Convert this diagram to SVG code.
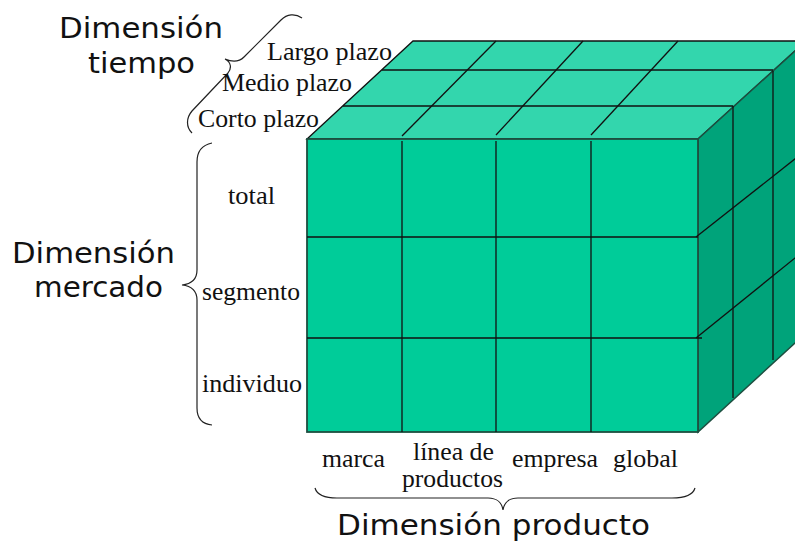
<svg xmlns="http://www.w3.org/2000/svg" width="795" height="543" viewBox="0 0 795 543">
<style>
.sans{font-family:"DejaVu Sans","Verdana",sans-serif;font-size:29px;fill:#111}
.ser{font-family:"Liberation Serif","Times New Roman",serif;font-size:26px;fill:#111}
.grid{stroke:#111;stroke-width:1.3;fill:none}
.brace{stroke:#222;stroke-width:1.2;fill:none}
</style>
<rect width="795" height="543" fill="#fff"/>
<g id="cube">
  <polygon points="307,139 413,41 806,41 698,139" fill="#33D6AD" stroke="#111" stroke-width="1.3"/>
  <polygon points="698,139 806,41 806,333 698,432" fill="#00A37A" stroke="#1d4f40" stroke-width="1.5"/>
  <rect x="307" y="139" width="391" height="293" fill="#00CC99" stroke="#1d4f40" stroke-width="1.8"/>
  <g class="grid">
    <line x1="343" y1="106" x2="733" y2="106"/>
    <line x1="382" y1="70" x2="773" y2="70"/>
    <line x1="402" y1="136" x2="496" y2="41"/>
    <line x1="496" y1="135" x2="583" y2="41"/>
    <line x1="591" y1="135" x2="678" y2="41"/>
    <line x1="402" y1="141" x2="402" y2="432"/>
    <line x1="496" y1="141" x2="496" y2="432"/>
    <line x1="591" y1="141" x2="591" y2="432"/>
    <line x1="307" y1="237" x2="698" y2="237"/>
    <line x1="307" y1="338" x2="702" y2="338"/>
    <line x1="733" y1="106" x2="733" y2="398"/>
    <line x1="773" y1="71" x2="773" y2="360"/>
    <line x1="696" y1="237" x2="800" y2="155"/>
    <line x1="696" y1="338" x2="800" y2="254"/>
  </g>
</g>
<g id="braces">
  <path class="brace" d="M302,18 C295,13 287,14 281,20 L244,57 C239,62 232,62 225,59 C231,62 232,68 228,73 L192,111 C186,118 186,127 192,133"/>
  <path class="brace" d="M212,143 C202,145 197,152 197,162 L197,270 C197,279 191,284 182,285 C191,286 197,291 197,300 L197,408 C197,418 202,424 212,425"/>
  <path class="brace" d="M315,488 C317,495 325,498 337,498 L488,498 C497,498 502,503 503,510 C504,503 509,498 518,498 L672,498 C685,498 693,495 695,488"/>
</g>
<g id="tiempo">
  <text class="sans" x="59" y="38" textLength="164" lengthAdjust="spacingAndGlyphs">Dimensión</text>
  <text class="sans" x="88" y="73" textLength="107" lengthAdjust="spacingAndGlyphs">tiempo</text>
  <text class="ser" x="267" y="60" textLength="125" lengthAdjust="spacingAndGlyphs">Largo plazo</text>
  <text class="ser" x="222" y="91" textLength="130" lengthAdjust="spacingAndGlyphs">Medio plazo</text>
  <text class="ser" x="198" y="127" textLength="121" lengthAdjust="spacingAndGlyphs">Corto plazo</text>
</g>
<g id="mercado">
  <text class="sans" x="12" y="263" textLength="163" lengthAdjust="spacingAndGlyphs">Dimensión</text>
  <text class="sans" x="34" y="297" textLength="129" lengthAdjust="spacingAndGlyphs">mercado</text>
  <text class="ser" x="228" y="204" textLength="47" lengthAdjust="spacingAndGlyphs">total</text>
  <text class="ser" x="202" y="300" textLength="98" lengthAdjust="spacingAndGlyphs">segmento</text>
  <text class="ser" x="202" y="392" textLength="100" lengthAdjust="spacingAndGlyphs">individuo</text>
</g>
<g id="producto">
  <text class="ser" x="322" y="467" textLength="63" lengthAdjust="spacingAndGlyphs">marca</text>
  <text class="ser" x="413" y="460" textLength="81" lengthAdjust="spacingAndGlyphs">línea de</text>
  <text class="ser" x="402" y="487" textLength="101" lengthAdjust="spacingAndGlyphs">productos</text>
  <text class="ser" x="512" y="467" textLength="86" lengthAdjust="spacingAndGlyphs">empresa</text>
  <text class="ser" x="613" y="467" textLength="65" lengthAdjust="spacingAndGlyphs">global</text>
  <text class="sans" x="337" y="535" textLength="313" lengthAdjust="spacingAndGlyphs">Dimensión producto</text>
</g>
</svg>
